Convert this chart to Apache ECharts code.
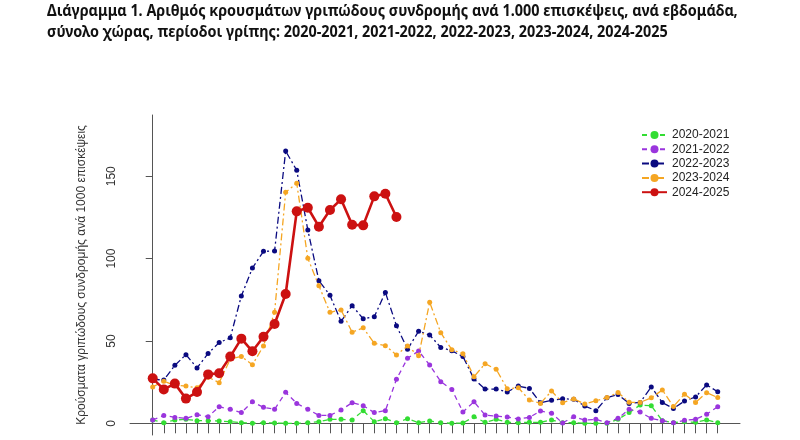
<!DOCTYPE html>
<html>
<head>
<meta charset="utf-8">
<script src="https://cdn.jsdelivr.net/npm/echarts@6/dist/echarts.min.js"></script>
<style>html,body{margin:0;padding:0;background:#fff}#c{width:800px;height:440px}</style>
</head>
<body>
<div id="c"></div>
<script>
// Weeks 40..52, 1..39 (52 weekly points)
const weeks = [40,41,42,43,44,45,46,47,48,49,50,51,52,1,2,3,4,5,6,7,8,9,10,11,12,13,14,15,16,17,18,19,20,21,22,23,24,25,26,27,28,29,30,31,32,33,34,35,36,37,38,39];
const seasonNames = ['2020-2021','2021-2022','2022-2023','2023-2024','2024-2025'];
const s2020 = [2.0,0.4,2.0,2.4,1.6,1.6,1.4,1.0,0.4,0,0.4,0.2,0,0,0.4,1.0,2.4,2.4,2.0,7.7,1.0,2.8,0.4,2.8,0.4,1.4,0.4,0,0.2,4.0,0.6,2.4,0.6,0.4,0.6,0.6,2.0,0.4,0.4,0,0,0,2.4,6.5,11.1,10.7,1.6,0.4,1.0,0.6,2.0,0.4];
const s2021 = [2.0,4.8,3.6,3.0,5.2,4.0,10.1,8.5,6.5,13.1,9.7,8.5,18.8,12.1,8.5,4.8,4.8,8.1,12.5,10.7,6.5,7.7,26.7,39.5,43.9,35.4,25.3,20.5,6.9,13.1,5.0,4.4,3.8,2.6,3.6,7.5,6.1,0.2,4.0,2.0,2.4,0.4,3.0,8.5,6.8,3.0,1.5,0.4,1.8,2.4,5.5,10.1];
const s2022 = [26.7,26.3,35.2,41.7,33.6,42.4,49.0,51.9,77.3,94.3,104.4,104.6,165.3,153.6,117.4,86.6,77.7,61.9,71.4,63.5,64.7,79.5,59.3,44.9,55.9,53.6,46.1,44.0,40.6,26.9,20.8,20.8,19.0,22.6,21.2,12.5,14.0,14.9,14.6,10.5,7.7,15.5,17.5,12.1,12.7,22.1,12.6,9.0,13.5,16.0,23.3,19.2];
const s2023 = [22.1,25.5,23.1,22.6,21.6,28.0,24.7,39.0,40.6,35.5,47.0,67.4,140.3,145.7,100.2,83.5,67.4,68.8,55.3,58.0,48.6,47.1,41.5,46.9,41.0,73.5,55.0,44.7,42.3,28.3,36.2,32.8,21.0,21.6,14.1,12.1,19.6,12.5,14.8,11.7,13.7,15.6,18.7,12.8,12.7,15.5,20.2,10.2,17.7,12.7,18.6,15.6];
const s2024 = [27.3,20.6,24.1,15.0,19.0,29.7,30.4,40.5,51.4,43.7,52.6,60.3,78.5,128.7,130.9,119.4,129.5,136.0,120.6,120.2,137.8,139.4,125.3];
const yTicks = [0,50,100,150];
const titleLines = [
  'Διάγραμμα 1. Αριθμός κρουσμάτων γριπώδους συνδρομής ανά 1.000 επισκέψεις, ανά εβδομάδα,',
  'σύνολο χώρας, περίοδοι γρίπης: 2020-2021, 2021-2022, 2022-2023, 2023-2024, 2024-2025'
];

const seriesValues = [s2020, s2021, s2022, s2023, s2024];
const colors = ['#33dd33','#9a35dd','#0a0a80','#f5a623','#cc1111'];
const dashes = [[5,4],[5,4],[7,3,2,3],[7,3,2,3],'solid'];

const chart = echarts.init(document.getElementById('c'), null, {renderer:'canvas'});
const series = seriesValues.map((vals, k) => ({
  name: seasonNames[k],
  type: 'line',
  data: vals.map((v, i) => [i, v]),
  symbol: 'circle',
  symbolSize: k === 4 ? 10 : 5,
  z: k === 4 ? 10 : 2 + k,
  itemStyle: {color: colors[k]},
  lineStyle: {color: colors[k], width: k === 4 ? 2.6 : 1.3, type: dashes[k]},
  emphasis: {disabled: true},
  animation: false
}));

chart.setOption({
  animation: false,
  graphic: [{
    type: 'text', x: 47, y: 1, scaleX: 0.9, scaleY: 1,
    style: {
      text: titleLines.join('\n'),
      font: 'bold 16px "Noto Sans", sans-serif',
      lineHeight: 21, fill: '#111'
    }
  }],
  legend: {
    orient: 'vertical', left: 636, top: 124,
    itemWidth: 25, itemHeight: 10, itemGap: 2.3,
    textStyle: {fontFamily: '"Liberation Sans", Arial, sans-serif', fontSize: 12, color: '#222'},
    data: seasonNames
  },
  grid: {left: 130, right: 60, top: 115, bottom: 5, containLabel: false},
  xAxis: {
    type: 'value', min: -2.05, max: 53.01,
    axisLine: {show: true, lineStyle: {color: '#555', width: 1}},
    axisTick: {show: true, length: 10, lineStyle: {color: '#555'}, customValues: weeks.map((w, i) => i)},
    axisLabel: {show: false},
    splitLine: {show: false}
  },
  yAxis: {
    type: 'value', min: -7.1, max: 187.2,
    name: 'Κρούσματα γριπώδους συνδρομής ανά 1000 επισκέψεις',
    nameLocation: 'middle', nameGap: 42, nameRotate: 90,
    nameTextStyle: {fontFamily: '"Liberation Sans", Arial, sans-serif', fontSize: 12, color: '#333'},
    axisLine: {show: true, lineStyle: {color: '#555', width: 1}},
    axisTick: {show: true, length: 7, lineStyle: {color: '#555'}, customValues: yTicks},
    axisLabel: {show: true, rotate: 90, margin: 12, customValues: yTicks, fontFamily: '"Liberation Sans", Arial, sans-serif', fontSize: 12, color: '#333'},
    splitLine: {show: false}
  },
  series: series
});
</script>
</body>
</html>
